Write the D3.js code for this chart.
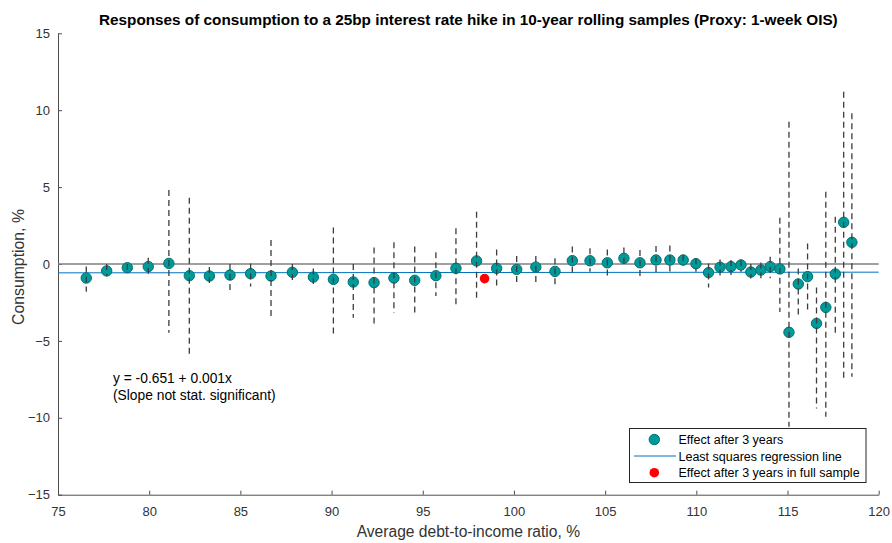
<!DOCTYPE html>
<html>
<head>
<meta charset="utf-8">
<script src="https://cdn.jsdelivr.net/npm/d3@7"></script>
<style>
  body { margin: 0; background: #fff; }
  svg { font-family: "Liberation Sans", Arial, sans-serif; }
</style>
</head>
<body>
<svg width="892" height="543"></svg>
<script>
// average debt-to-income ratio of each rolling sample
const ratio = [76.55, 77.67, 78.8, 79.95, 81.08, 82.2, 83.3, 84.43, 85.56, 86.68,
  87.85, 89.0, 90.1, 91.19, 92.33, 93.42, 94.56, 95.72, 96.82, 97.95,
  99.05, 100.15, 101.2, 102.25, 103.2, 104.17, 105.12, 106.03, 106.91, 107.79,
  108.55, 109.28, 109.98, 110.67, 111.3, 111.9, 112.45, 112.99, 113.54, 114.05,
  114.58, 115.08, 115.59, 116.1, 116.59, 117.1, 117.62, 118.08, 118.53];
// effect after 3 years
const effect = [-0.91, -0.45, -0.24, -0.17, 0.04, -0.76, -0.78, -0.72, -0.63, -0.78,
  -0.54, -0.85, -1.0, -1.17, -1.21, -0.91, -1.06, -0.76, -0.28, 0.2,
  -0.28, -0.35, -0.2, -0.48, 0.22, 0.21, 0.08, 0.37, 0.08, 0.26,
  0.26, 0.26, 0.02, -0.56, -0.21, -0.17, -0.06, -0.52, -0.39, -0.17,
  -0.32, -4.44, -1.3, -0.82, -3.86, -2.82, -0.65, 2.71, 1.41];
// confidence band
const upper = [-0.17, 0.0, 0.0, 0.4, 4.81, 4.31, -0.2, 0.0, 0.04, 1.56,
  0.0, -0.3, 2.37, 0.0, 1.08, 1.41, 1.13, 0.76, 2.32, 3.4,
  0.95, 0.52, 0.52, 0.37, 1.13, 1.02, 0.95, 1.08, 0.91, 1.17,
  1.21, 0.6, 0.37, 0.04, 0.3, 0.26, 0.26, 0.0, 0.1, 0.47,
  3.0, 9.25, -0.3, 1.34, -1.52, 4.7, 3.08, 11.2, 9.8];
const lower = [-1.8, -0.8, -0.6, -0.76, -4.47, -5.98, -1.37, -1.73, -1.47, -3.43,
  -1.2, -1.3, -4.53, -3.49, -4.01, -3.17, -3.38, -2.08, -2.73, -2.19,
  -1.54, -1.3, -1.26, -1.32, -0.61, -0.5, -0.78, -0.21, -0.78, -0.61,
  -0.56, -0.1, -0.5, -1.52, -0.82, -0.72, -0.5, -0.95, -0.93, -0.93,
  -3.12, -10.58, -3.3, -3.21, -9.39, -9.93, -4.62, -7.54, -7.33];

const fullSample = [98.39, -0.95];
const intercept = -0.651, slope = 0.001;

const xTicks = [75, 80, 85, 90, 95, 100, 105, 110, 115, 120];
const yTicks = [-15, -10, -5, 0, 5, 10, 15];

const svg = d3.select("svg");
const mLeft = 58, mRight = 878.7, mTop = 33.3, mBottom = 494.7;

const x = d3.scaleLinear().domain([75, 120]).range([mLeft, mRight]);
const y = d3.scaleLinear().domain([-15, 15]).range([mBottom, mTop]);

// axes (ticks point inward, no box)
svg.append("g")
    .attr("transform", `translate(0,${mBottom})`)
    .call(d3.axisBottom(x).tickValues(xTicks).tickSizeInner(-4).tickSizeOuter(0).tickPadding(12))
    .call(g => g.select(".domain").attr("stroke", "#4d4d4d"))
    .call(g => g.selectAll("line").attr("stroke", "#4d4d4d"))
    .call(g => g.selectAll("text").attr("font-size", 13).attr("fill", "#333").attr("font-family", null));

svg.append("g")
    .attr("transform", `translate(${mLeft},0)`)
    .call(d3.axisLeft(y).tickValues(yTicks).tickSizeInner(-4).tickSizeOuter(0).tickPadding(8))
    .call(g => g.select(".domain").attr("stroke", "#4d4d4d"))
    .call(g => g.selectAll("line").attr("stroke", "#4d4d4d"))
    .call(g => g.selectAll("text").attr("font-size", 13).attr("fill", "#333").attr("font-family", null));

// zero line
svg.append("line")
    .attr("x1", x(75)).attr("x2", x(120))
    .attr("y1", y(0)).attr("y2", y(0))
    .attr("stroke", "#808080").attr("stroke-width", 1.3);

// regression line
svg.append("line")
    .attr("x1", x(75)).attr("x2", x(120))
    .attr("y1", y(intercept + slope * 75)).attr("y2", y(intercept + slope * 120))
    .attr("stroke", "#0072bd").attr("stroke-width", 1);

const pts = ratio.map((r, i) => ({ r, e: effect[i], hi: upper[i], lo: lower[i] }));

// markers
svg.append("g")
    .selectAll("circle")
    .data(pts)
    .enter()
    .append("circle")
    .attr("cx", d => x(d.r))
    .attr("cy", d => y(d.e))
    .attr("r", 5.2)
    .attr("fill", "#009a9a")
    .attr("stroke", "#007070")
    .attr("stroke-width", 1);

// confidence bands, dashed
svg.append("g")
    .selectAll("line")
    .data(pts)
    .enter()
    .append("line")
    .attr("x1", d => x(d.r)).attr("x2", d => x(d.r))
    .attr("y1", d => y(d.hi)).attr("y2", d => y(d.lo))
    .attr("stroke", "#3c3c3c")
    .attr("stroke-width", 1.3)
    .attr("stroke-dasharray", "6,4");

// full sample point
svg.append("circle")
    .attr("cx", x(fullSample[0]))
    .attr("cy", y(fullSample[1]))
    .attr("r", 4.8)
    .attr("fill", "#ff0000");

// title and labels
svg.append("text")
    .attr("x", (mLeft + mRight) / 2).attr("y", 25)
    .attr("text-anchor", "middle")
    .attr("font-size", 15.3).attr("font-weight", "bold")
    .text("Responses of consumption to a 25bp interest rate hike in 10-year rolling samples (Proxy: 1-week OIS)");

svg.append("text")
    .attr("x", (mLeft + mRight) / 2).attr("y", 537)
    .attr("text-anchor", "middle")
    .attr("font-size", 15.6).attr("fill", "#333")
    .text("Average debt-to-income ratio, %");

svg.append("text")
    .attr("transform", `translate(24,267) rotate(-90)`)
    .attr("text-anchor", "middle")
    .attr("font-size", 15.8).attr("fill", "#333")
    .text("Consumption, %");

svg.append("text")
    .attr("x", 113).attr("y", 383)
    .attr("font-size", 13.8)
    .text(`y = ${intercept} + ${slope}x`);
svg.append("text")
    .attr("x", 113).attr("y", 400)
    .attr("font-size", 13.8)
    .text("(Slope not stat. significant)");

// legend
const lg = svg.append("g");
lg.append("rect")
    .attr("x", 629.5).attr("y", 428.5)
    .attr("width", 236.5).attr("height", 54)
    .attr("fill", "#fff").attr("stroke", "#262626").attr("stroke-width", 1);
const rows = [439.5, 456, 472.7];
lg.append("circle").attr("cx", 654.3).attr("cy", rows[0]).attr("r", 5.2)
    .attr("fill", "#009a9a").attr("stroke", "#007070");
lg.append("line").attr("x1", 634).attr("x2", 676).attr("y1", rows[1]).attr("y2", rows[1])
    .attr("stroke", "#0072bd");
lg.append("circle").attr("cx", 654.3).attr("cy", rows[2]).attr("r", 4.8)
    .attr("fill", "#ff0000");
const labels = ["Effect after 3 years", "Least squares regression line", "Effect after 3 years in full sample"];
lg.selectAll(".lt")
    .data(labels)
    .enter()
    .append("text")
    .attr("x", 678.5)
    .attr("y", (d, i) => rows[i] + 4.5)
    .attr("font-size", 12.5)
    .text(d => d);
</script>
</body>
</html>
